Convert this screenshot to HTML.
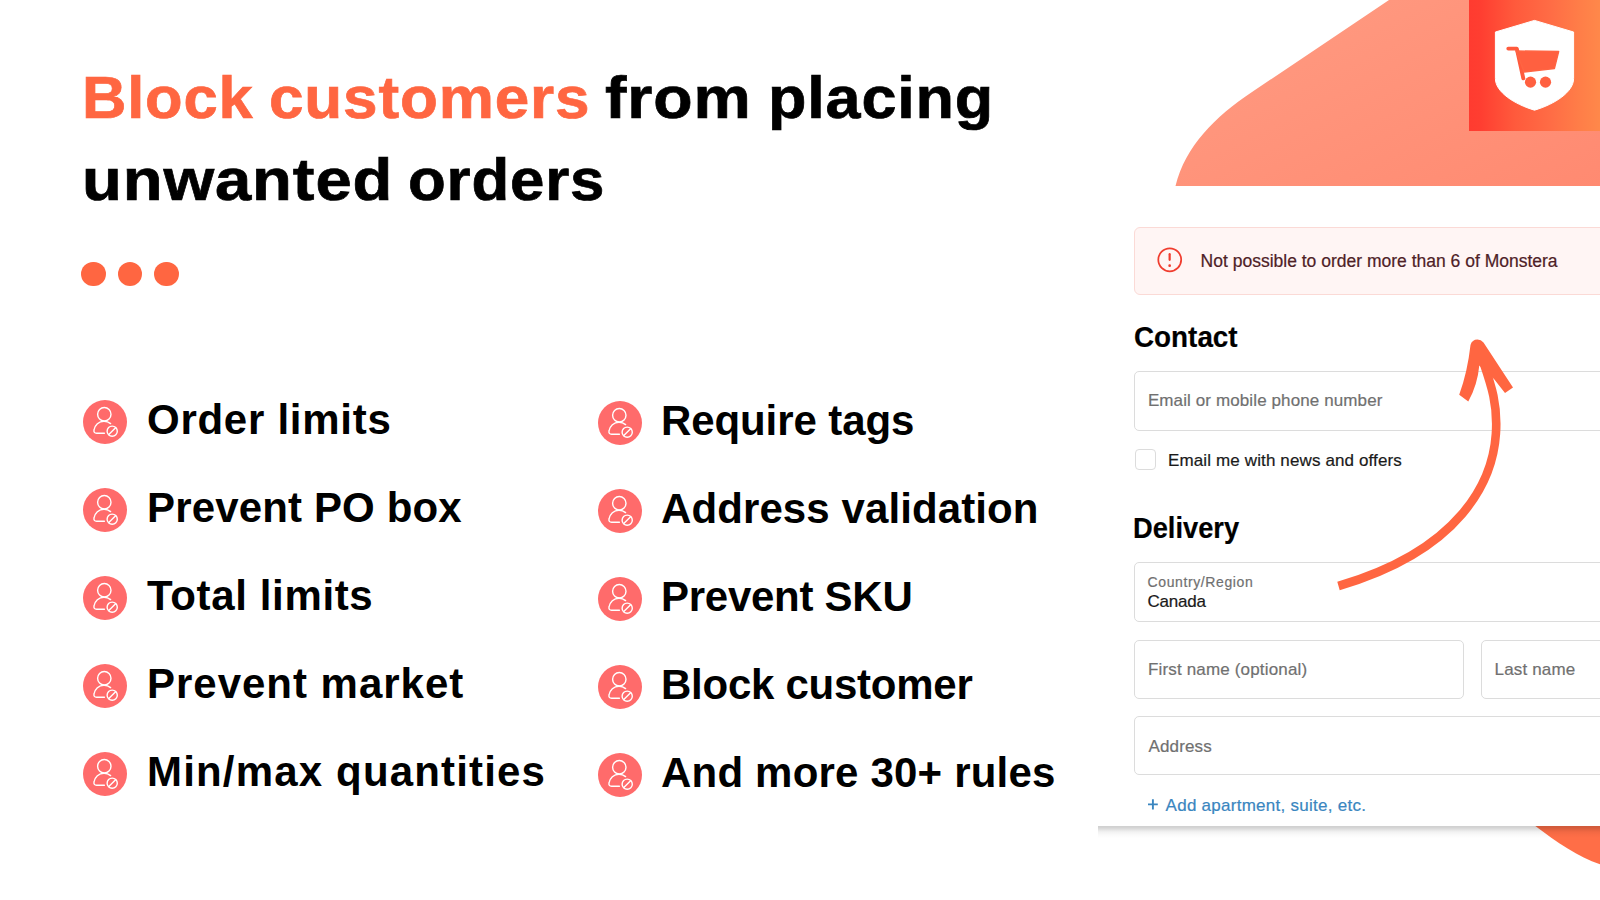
<!DOCTYPE html>
<html><head><meta charset="utf-8">
<style>
html,body{margin:0;padding:0;}
body{width:1600px;height:900px;position:relative;overflow:hidden;background:#fff;font-family:"Liberation Sans",sans-serif;}
.abs{position:absolute;}
.h1{position:absolute;font-weight:bold;font-size:60px;line-height:60px;white-space:nowrap;color:#000;transform-origin:0 0;-webkit-text-stroke:0.7px currentColor;}
.or{color:#FF6641;}
.dot{position:absolute;top:262px;width:24.3px;height:24.3px;border-radius:50%;background:#FF6641;}
.ic{position:absolute;width:44px;height:44px;}
.t{position:absolute;font-weight:bold;font-size:42px;line-height:42px;color:#000;white-space:nowrap;}
.card{position:absolute;left:1098px;top:186px;width:502px;height:640px;background:#fff;}
.shadow{position:absolute;left:1098px;top:826px;width:502px;height:12px;background:linear-gradient(rgba(0,0,0,.19) 0,rgba(0,0,0,.16) 2px,rgba(0,0,0,.10) 4px,rgba(0,0,0,.05) 6px,rgba(0,0,0,.02) 9px,rgba(0,0,0,0) 12px);}
.ff{position:absolute;color:#000;white-space:nowrap;line-height:1;-webkit-text-stroke:0.2px currentColor;}
.inp{position:absolute;border:1px solid #dcdcdc;border-radius:5px;background:#fff;box-sizing:border-box;}
</style></head>
<body>
<div class="h1" style="left:81.5px;top:68px;letter-spacing:0.8px;transform:scaleX(1.0245);color:#FF6641">Block</div>
<div class="h1" style="left:269.23px;top:68px;letter-spacing:0.8px;transform:scaleX(1.0346);color:#FF6641">customers</div>
<div class="h1" style="left:604.93px;top:68px;letter-spacing:0.8px;transform:scaleX(1.0735);color:#000">from</div>
<div class="h1" style="left:767.7px;top:68px;letter-spacing:0.8px;transform:scaleX(1.0488);color:#000">placing</div>
<div class="h1" style="left:81.74px;top:150px;letter-spacing:0.8px;transform:scaleX(1.0867);color:#000">unwanted</div>
<div class="h1" style="left:407.94px;top:150px;letter-spacing:0.8px;transform:scaleX(1.0299);color:#000">orders</div>
<div class="dot" style="left:81.4px"></div>
<div class="dot" style="left:117.9px"></div>
<div class="dot" style="left:154.4px"></div>
<svg class="ic" style="left:83.4px;top:400.3px" viewBox="0 0 44 44"><circle cx="22" cy="22" r="22" fill="#FF6B6B"/><g fill="none" stroke="#fff" stroke-width="1.4" stroke-linecap="round"><circle cx="21.3" cy="14.2" r="6.7"/><path d="M27.6 23.6 C25.6 21.9 23.4 21.2 21 21.2 C15.8 21.2 11.8 25.3 11 30 C10.6 32 11.6 33.2 13.6 33.2 L21.4 33.2"/><circle cx="29.2" cy="31.2" r="5.1"/><path d="M25.8 34.6 L32.6 27.8"/></g></svg>
<svg class="ic" style="left:597.5px;top:401.3px" viewBox="0 0 44 44"><circle cx="22" cy="22" r="22" fill="#FF6B6B"/><g fill="none" stroke="#fff" stroke-width="1.4" stroke-linecap="round"><circle cx="21.3" cy="14.2" r="6.7"/><path d="M27.6 23.6 C25.6 21.9 23.4 21.2 21 21.2 C15.8 21.2 11.8 25.3 11 30 C10.6 32 11.6 33.2 13.6 33.2 L21.4 33.2"/><circle cx="29.2" cy="31.2" r="5.1"/><path d="M25.8 34.6 L32.6 27.8"/></g></svg>
<div class="t" style="left:147px;top:399px;letter-spacing:0.73px">Order limits</div>
<div class="t" style="left:661px;top:399.5px;letter-spacing:-0.1px">Require tags</div>
<svg class="ic" style="left:83.4px;top:488.3px" viewBox="0 0 44 44"><circle cx="22" cy="22" r="22" fill="#FF6B6B"/><g fill="none" stroke="#fff" stroke-width="1.4" stroke-linecap="round"><circle cx="21.3" cy="14.2" r="6.7"/><path d="M27.6 23.6 C25.6 21.9 23.4 21.2 21 21.2 C15.8 21.2 11.8 25.3 11 30 C10.6 32 11.6 33.2 13.6 33.2 L21.4 33.2"/><circle cx="29.2" cy="31.2" r="5.1"/><path d="M25.8 34.6 L32.6 27.8"/></g></svg>
<svg class="ic" style="left:597.5px;top:489.3px" viewBox="0 0 44 44"><circle cx="22" cy="22" r="22" fill="#FF6B6B"/><g fill="none" stroke="#fff" stroke-width="1.4" stroke-linecap="round"><circle cx="21.3" cy="14.2" r="6.7"/><path d="M27.6 23.6 C25.6 21.9 23.4 21.2 21 21.2 C15.8 21.2 11.8 25.3 11 30 C10.6 32 11.6 33.2 13.6 33.2 L21.4 33.2"/><circle cx="29.2" cy="31.2" r="5.1"/><path d="M25.8 34.6 L32.6 27.8"/></g></svg>
<div class="t" style="left:147px;top:487px;letter-spacing:0.15px">Prevent PO box</div>
<div class="t" style="left:661px;top:487.5px;letter-spacing:0.1px">Address validation</div>
<svg class="ic" style="left:83.4px;top:576.3px" viewBox="0 0 44 44"><circle cx="22" cy="22" r="22" fill="#FF6B6B"/><g fill="none" stroke="#fff" stroke-width="1.4" stroke-linecap="round"><circle cx="21.3" cy="14.2" r="6.7"/><path d="M27.6 23.6 C25.6 21.9 23.4 21.2 21 21.2 C15.8 21.2 11.8 25.3 11 30 C10.6 32 11.6 33.2 13.6 33.2 L21.4 33.2"/><circle cx="29.2" cy="31.2" r="5.1"/><path d="M25.8 34.6 L32.6 27.8"/></g></svg>
<svg class="ic" style="left:597.5px;top:577.3px" viewBox="0 0 44 44"><circle cx="22" cy="22" r="22" fill="#FF6B6B"/><g fill="none" stroke="#fff" stroke-width="1.4" stroke-linecap="round"><circle cx="21.3" cy="14.2" r="6.7"/><path d="M27.6 23.6 C25.6 21.9 23.4 21.2 21 21.2 C15.8 21.2 11.8 25.3 11 30 C10.6 32 11.6 33.2 13.6 33.2 L21.4 33.2"/><circle cx="29.2" cy="31.2" r="5.1"/><path d="M25.8 34.6 L32.6 27.8"/></g></svg>
<div class="t" style="left:147px;top:575px;letter-spacing:0.65px">Total limits</div>
<div class="t" style="left:661px;top:575.5px;letter-spacing:-0.27px">Prevent SKU</div>
<svg class="ic" style="left:83.4px;top:664.3px" viewBox="0 0 44 44"><circle cx="22" cy="22" r="22" fill="#FF6B6B"/><g fill="none" stroke="#fff" stroke-width="1.4" stroke-linecap="round"><circle cx="21.3" cy="14.2" r="6.7"/><path d="M27.6 23.6 C25.6 21.9 23.4 21.2 21 21.2 C15.8 21.2 11.8 25.3 11 30 C10.6 32 11.6 33.2 13.6 33.2 L21.4 33.2"/><circle cx="29.2" cy="31.2" r="5.1"/><path d="M25.8 34.6 L32.6 27.8"/></g></svg>
<svg class="ic" style="left:597.5px;top:665.3px" viewBox="0 0 44 44"><circle cx="22" cy="22" r="22" fill="#FF6B6B"/><g fill="none" stroke="#fff" stroke-width="1.4" stroke-linecap="round"><circle cx="21.3" cy="14.2" r="6.7"/><path d="M27.6 23.6 C25.6 21.9 23.4 21.2 21 21.2 C15.8 21.2 11.8 25.3 11 30 C10.6 32 11.6 33.2 13.6 33.2 L21.4 33.2"/><circle cx="29.2" cy="31.2" r="5.1"/><path d="M25.8 34.6 L32.6 27.8"/></g></svg>
<div class="t" style="left:147px;top:663px;letter-spacing:0.98px">Prevent market</div>
<div class="t" style="left:661px;top:663.5px;letter-spacing:-0.26px">Block customer</div>
<svg class="ic" style="left:83.4px;top:752.3px" viewBox="0 0 44 44"><circle cx="22" cy="22" r="22" fill="#FF6B6B"/><g fill="none" stroke="#fff" stroke-width="1.4" stroke-linecap="round"><circle cx="21.3" cy="14.2" r="6.7"/><path d="M27.6 23.6 C25.6 21.9 23.4 21.2 21 21.2 C15.8 21.2 11.8 25.3 11 30 C10.6 32 11.6 33.2 13.6 33.2 L21.4 33.2"/><circle cx="29.2" cy="31.2" r="5.1"/><path d="M25.8 34.6 L32.6 27.8"/></g></svg>
<svg class="ic" style="left:597.5px;top:753.3px" viewBox="0 0 44 44"><circle cx="22" cy="22" r="22" fill="#FF6B6B"/><g fill="none" stroke="#fff" stroke-width="1.4" stroke-linecap="round"><circle cx="21.3" cy="14.2" r="6.7"/><path d="M27.6 23.6 C25.6 21.9 23.4 21.2 21 21.2 C15.8 21.2 11.8 25.3 11 30 C10.6 32 11.6 33.2 13.6 33.2 L21.4 33.2"/><circle cx="29.2" cy="31.2" r="5.1"/><path d="M25.8 34.6 L32.6 27.8"/></g></svg>
<div class="t" style="left:147px;top:751px;letter-spacing:1.17px">Min/max quantities</div>
<div class="t" style="left:661px;top:751.5px;letter-spacing:0.2px">And more 30+ rules</div>
<svg class="abs" style="left:0;top:0" width="1600" height="900">
  <defs>
    <linearGradient id="sg" x1="1389" y1="0" x2="1504" y2="233" gradientUnits="userSpaceOnUse">
      <stop offset="0" stop-color="#FF977E"/>
      <stop offset="1" stop-color="#FF8A71"/>
    </linearGradient>
  </defs>
  <path d="M1389 0 L1600 0 L1600 186 L1175.5 186 C1185.5 146 1214.75 117 1252 92 Z" fill="url(#sg)"/>
  <path d="M1530 820 L1600 820 L1600 864.3 C1578 856.6 1557.3 842.7 1535.3 826 Z" fill="#FF6E47"/>
</svg>
<div class="card"></div><div class="shadow"></div>
<div class="abs" style="left:1469px;top:0;width:131px;height:131px;background:linear-gradient(90deg,#FF3B30 0%,#FF3E31 9%,#FF5A3C 35%,#FF6C45 62%,#FF7E48 85%,#FF884A 100%)"></div>
<svg class="abs" style="left:1469px;top:0" width="131" height="131" viewBox="0 0 131 131">
  <path d="M65.5 20.4 L104.6 32 L104.6 78.5 C104.6 92 86 104 65.5 110.2 C45 104 26.4 92 26.4 78.5 L26.4 32 Z" fill="#fff" stroke="#fff" stroke-width="1" stroke-linejoin="round"/>
  <g fill="#FF6040">
    <path d="M39.3 48.6 L47.8 48.6 L54.3 78.3" fill="none" stroke="#FF5A3C" stroke-width="3.9" stroke-linecap="round" stroke-linejoin="round"/>
    <path d="M47.2 51 L89.6 51.6 L85.4 68.4 L55.1 72 Z" stroke="#FF6442" stroke-width="1.5" stroke-linejoin="round"/>
    <circle cx="61.5" cy="82.15" r="5.6"/><circle cx="76.5" cy="82.15" r="5.6"/>
  </g>
</svg>
<div class="inp" style="left:1134px;top:226.5px;width:520px;height:68px;background:#FFF5F4;border-color:#FBDAD6;border-radius:6px"></div>
<div class="inp" style="left:1134px;top:371px;width:520px;height:59.5px;"></div>
<div class="inp" style="left:1135px;top:448.5px;width:21.3px;height:21.5px;border-radius:4px"></div>
<div class="inp" style="left:1134px;top:562px;width:520px;height:60px;"></div>
<div class="inp" style="left:1134px;top:639.5px;width:330px;height:59px;"></div>
<div class="inp" style="left:1481px;top:639.5px;width:200px;height:59px;"></div>
<div class="inp" style="left:1134px;top:716px;width:520px;height:59px;"></div>
<svg class="abs" style="left:1155px;top:245px" width="30" height="30" viewBox="0 0 30 30"><circle cx="14.75" cy="14.8" r="11.45" fill="none" stroke="#F03C2E" stroke-width="1.75"/><path d="M14.65 9.2 L14.65 14.8" stroke="#F03C2E" stroke-width="2.2" stroke-linecap="round"/><circle cx="14.65" cy="20.7" r="1.35" fill="#F03C2E"/></svg>
<div class="ff" style="left:1200.6px;top:252.6px;font-size:17.5px;line-height:17.5px;font-weight:normal;letter-spacing:0.0px;color:#4E2126">Not possible to order more than 6 of Monstera</div>
<div class="ff" style="left:1133.6px;top:323.2px;font-size:29px;line-height:29px;font-weight:bold;letter-spacing:0px;color:#000;transform:scaleX(0.96);transform-origin:0 0">Contact</div>
<div class="ff" style="left:1147.9px;top:392.45px;font-size:17px;line-height:17px;font-weight:normal;letter-spacing:0.111px;color:#707070">Email or mobile phone number</div>
<div class="ff" style="left:1168.0px;top:451.9px;font-size:17px;line-height:17px;font-weight:normal;letter-spacing:0.129px;color:#1a1a1a">Email me with news and offers</div>
<div class="ff" style="left:1133.1px;top:514.1px;font-size:29px;line-height:29px;font-weight:bold;letter-spacing:0px;color:#000;transform:scaleX(0.94);transform-origin:0 0">Delivery</div>
<div class="ff" style="left:1147.5px;top:574.6px;font-size:14px;line-height:14px;font-weight:normal;letter-spacing:0.615px;color:#707070">Country/Region</div>
<div class="ff" style="left:1147.5px;top:592.9px;font-size:17px;line-height:17px;font-weight:normal;letter-spacing:-0.2px;color:#1a1a1a">Canada</div>
<div class="ff" style="left:1148px;top:660.5px;font-size:17px;line-height:17px;font-weight:normal;letter-spacing:0.16px;color:#707070">First name (optional)</div>
<div class="ff" style="left:1148.4px;top:737.6px;font-size:17px;line-height:17px;font-weight:normal;letter-spacing:0.167px;color:#707070">Address</div>
<div class="ff" style="left:1494.6px;top:660.5px;font-size:17px;line-height:17px;font-weight:normal;letter-spacing:0.16px;color:#707070">Last name</div>
<div class="ff" style="left:1165.6px;top:796.5px;font-size:17px;line-height:17px;font-weight:normal;letter-spacing:0.264px;color:#3A86C0">Add apartment, suite, etc.</div>
<svg class="abs" style="left:0;top:0" width="1600" height="900"><path d="M1148 804.4 H1157.8 M1152.9 799.2 V809.4" stroke="#3A86C0" stroke-width="1.9"/>
<path d="M1338.5 586 C1461.6 549.8 1492.8 480.6 1495.9 433.7 C1498.4 397.2 1487.2 375.9 1478 346" fill="none" stroke="#FF6641" stroke-width="8.6"/>
  <path d="M1459.2 394.8 Q1467.5 372 1470.5 345 Q1472 339.5 1477.5 339.5 Q1481 339.5 1483.5 342.5 L1513 387.5 L1505 393 L1494 379 L1479.3 365.5 Q1477.5 385 1468.3 401.5 Z" fill="#FF6641"/>
</svg>
</body></html>
